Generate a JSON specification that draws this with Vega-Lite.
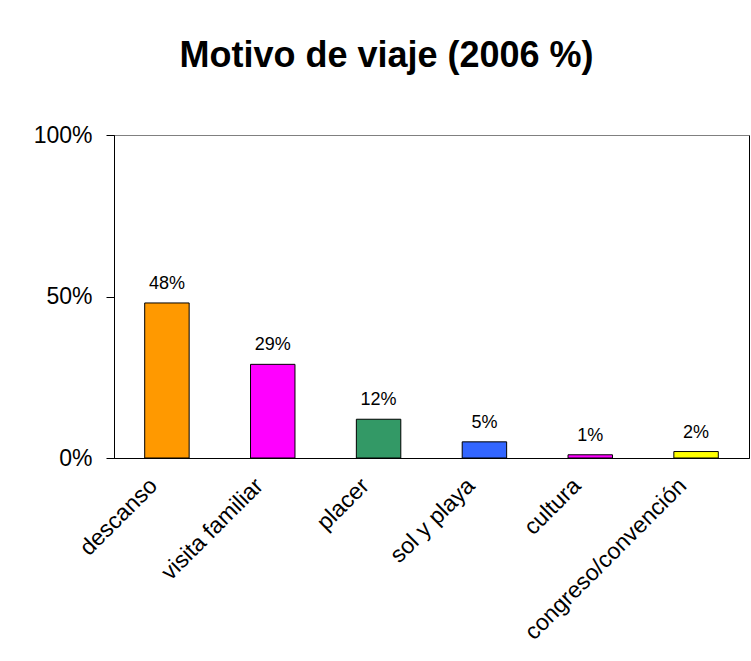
{
  "$schema": "https://vega.github.io/schema/vega-lite/v6.json",
  "autosize": "none",
  "width": 635,
  "height": 323,
  "padding": {"left": 114, "top": 135, "right": 2, "bottom": 203},
  "background": "white",
  "title": {
    "text": "Motivo de viaje (2006 %)",
    "font": "Liberation Sans",
    "fontSize": 36,
    "fontWeight": "bold",
    "color": "black",
    "anchor": "middle",
    "frame": "group",
    "baseline": "bottom",
    "offset": 13,
    "dx": -45
  },
  "config": {
    "view": {"stroke": "black", "strokeWidth": 1},
    "font": "Liberation Sans"
  },
  "data": {
    "values": [
      {"motivo": "descanso", "pct": 0.48, "color": "#FF9900"},
      {"motivo": "visita familiar", "pct": 0.29, "color": "#FF00FF"},
      {"motivo": "placer", "pct": 0.12, "color": "#339966"},
      {"motivo": "sol y playa", "pct": 0.05, "color": "#3366FF"},
      {"motivo": "cultura", "pct": 0.01, "color": "#FF00FF"},
      {"motivo": "congreso/convención", "pct": 0.02, "color": "#FFFF00"}
    ]
  },
  "encoding": {
    "x": {
      "field": "motivo",
      "type": "nominal",
      "sort": null,
      "scale": {"paddingInner": 0.58, "paddingOuter": 0.29},
      "axis": {
        "title": null,
        "labelAngle": -45,
        "labelAlign": "right",
        "labelBaseline": "top",
        "labelFontSize": 23,
        "labelColor": "black",
        "labelPadding": 16,
        "labelOffset": -21,
        "ticks": false,
        "domainColor": "black",
        "labelLimit": 400
      }
    },
    "y": {
      "field": "pct",
      "type": "quantitative",
      "scale": {"domain": [0, 1]},
      "axis": {
        "title": null,
        "values": [0, 0.5, 1],
        "format": ".0%",
        "labelFontSize": 23,
        "labelColor": "black",
        "labelPadding": 14,
        "tickSize": 8,
        "tickColor": "black",
        "domainColor": "black",
        "grid": true,
        "gridColor": {"condition": {"test": "datum.value == 1", "value": "#808080"}, "value": "transparent"},
        "gridDash": [],
        "gridOpacity": 1
      }
    }
  },
  "layer": [
    {
      "mark": {"type": "bar", "stroke": "black", "strokeWidth": 1},
      "encoding": {
        "fill": {"field": "color", "type": "nominal", "scale": null}
      }
    },
    {
      "mark": {"type": "text", "baseline": "alphabetic", "dy": -14, "fontSize": 18, "color": "black"},
      "encoding": {
        "text": {"field": "pct", "type": "quantitative", "format": ".0%"}
      }
    }
  ]
}
